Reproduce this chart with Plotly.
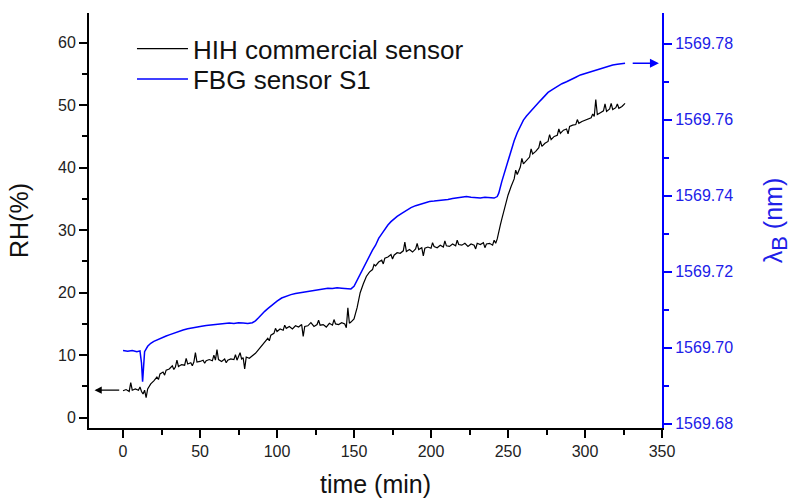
import plotly.graph_objects as go

# ---------------- data ----------------
t_hih = [0, 2, 4, 5, 6, 8, 10, 11, 12, 13, 14, 15, 16, 18, 20, 22, 23, 24, 26, 27, 28, 30,
         32, 33, 34, 35, 36, 38, 40, 41, 42, 44, 45, 46, 47, 48, 50, 52, 53, 54, 56, 58, 59,
         60, 61, 62, 64, 66, 67, 68, 70, 72, 73, 74, 76, 77, 78, 79, 80, 82, 84, 86, 88, 90,
         92, 94, 95, 96, 98, 99, 100, 102, 104, 105, 106, 108, 110, 112, 114, 116, 117, 118,
         120, 122, 124, 126, 127, 128, 130, 132, 134, 136, 137, 138, 140, 142, 144, 145, 146,
         147, 148, 150, 152, 154, 156, 158, 160, 162, 163, 164, 166, 168, 169, 170, 172, 174,
         175, 176, 178, 180, 182, 183, 184, 186, 188, 190, 191, 192, 194, 195, 196, 198, 200,
         201, 202, 204, 206, 208, 209, 210, 212, 214, 216, 217, 218, 220, 222, 224, 226, 228,
         229, 230, 232, 234, 235, 236, 238, 240, 241, 242, 243, 244, 245, 246, 247, 248, 249,
         250, 252, 254, 255, 256, 258, 259, 260, 262, 264, 265, 266, 268, 270, 271, 272, 274,
         276, 277, 278, 280, 282, 283, 284, 286, 288, 289, 290, 292, 294, 295, 296, 298, 300,
         302, 304, 305, 306, 307, 308, 310, 312, 313, 314, 316, 317, 318, 320, 321, 322, 324,
         326]
rh_hih = [4.3, 4.5, 4.2, 5.6, 4.4, 4.6, 4.4, 4.9, 4.2, 3.8, 4.4, 3.2, 4.6, 5.4, 5.9, 6.5, 6.1,
          7.0, 7.3, 6.8, 7.6, 7.8, 8.3, 7.7, 8.1, 9.2, 8.2, 8.5, 8.4, 9.5, 8.6, 8.8, 8.3, 8.9,
          10.4, 8.9, 9.0, 9.2, 8.7, 9.1, 9.3, 9.1, 10.0, 9.2, 10.9, 9.3, 9.0, 9.4, 8.8, 9.2,
          9.4, 9.3, 10.1, 9.2, 10.4, 9.4, 9.6, 7.8, 9.7, 9.5, 9.9, 10.3, 10.9, 11.5, 12.1, 12.7,
          12.3, 13.2, 13.5, 14.3, 13.8, 14.2, 14.0, 14.8, 14.3, 14.6, 14.2, 14.7, 14.5, 14.9,
          13.0, 14.6, 14.7, 15.2, 14.6, 14.9, 15.6, 14.8, 14.9, 14.5, 15.1, 14.8, 15.7, 15.0,
          14.9, 15.2, 15.0, 14.4, 17.6, 15.1, 15.3, 15.8, 17.6, 20.0, 21.4, 22.6, 23.3, 23.7,
          24.5, 24.3, 24.9, 25.2, 24.6, 25.5, 25.7, 26.1, 25.4, 26.0, 26.4, 26.3, 26.7, 28.1,
          26.6, 26.9, 26.5, 27.0, 27.9, 26.9, 27.2, 25.9, 27.1, 27.3, 27.1, 28.0, 27.4, 27.2,
          27.6, 27.3, 28.3, 27.5, 27.4, 27.8, 27.5, 28.4, 27.7, 27.6, 27.9, 27.4, 27.8, 27.6,
          27.0, 27.9, 27.7, 28.0, 27.2, 27.8, 27.9, 27.6, 28.4, 27.9, 28.6, 29.5, 30.8, 31.8,
          32.7, 33.8, 34.8, 35.6, 37.0, 38.2, 39.6, 38.9, 40.1, 41.5, 40.6, 41.2, 41.7, 43.0,
          42.2, 42.6, 43.2, 44.3, 43.4, 43.9, 44.2, 45.3, 44.5, 45.0, 45.2, 46.2, 45.5, 46.0,
          46.2, 45.4, 46.6, 46.8, 46.9, 47.7, 47.1, 47.4, 47.6, 47.9, 48.0, 48.6, 48.2, 50.9,
          48.5, 48.8, 49.1, 50.2, 49.0, 49.4, 50.3, 49.3, 49.6, 50.2, 49.5, 49.8, 50.3]

t_fbg = [0, 3, 6, 9, 11, 12, 12.7, 13.3, 14, 16, 18, 20, 22, 24, 26, 28, 30, 33, 36, 39, 42,
         45, 48, 51, 54, 57, 60, 63, 66, 69, 72, 75, 78, 81, 84, 86, 88, 90, 92, 94, 96, 98,
         100, 103, 106, 109, 112, 115, 118, 121, 124, 127, 130, 133, 136, 139, 142, 145, 148,
         150, 152, 154, 156, 158, 160, 162, 164, 166, 168, 170, 172, 174, 176, 178, 181, 184,
         187, 190, 193, 196, 199, 202, 205, 208, 211, 214, 217, 220, 223, 226, 229, 232, 235,
         238, 241, 243, 244, 246, 248, 250, 252, 254, 256, 258, 260, 262, 264.5, 267, 270,
         273, 276, 279, 282, 285, 288, 291, 294, 297, 300, 303, 306, 309, 312, 315, 318, 321,
         324, 326]
wl_fbg = [1569.6993, 1569.6991, 1569.6993, 1569.6990, 1569.6992, 1569.6960, 1569.6911,
          1569.6965, 1569.6990, 1569.7004, 1569.7012, 1569.7017, 1569.7021, 1569.7024,
          1569.7028, 1569.7031, 1569.7034, 1569.7039, 1569.7043, 1569.7047, 1569.7050,
          1569.7053, 1569.7055, 1569.7057, 1569.7059, 1569.7060, 1569.7062, 1569.7063,
          1569.7063, 1569.7065, 1569.7064, 1569.7066, 1569.7065, 1569.7064, 1569.7066,
          1569.7071, 1569.7079, 1569.7088, 1569.7096, 1569.7103, 1569.7110, 1569.7117,
          1569.7123, 1569.7131, 1569.7136, 1569.7140, 1569.7143, 1569.7145, 1569.7147,
          1569.7149, 1569.7151, 1569.7154, 1569.7155, 1569.7157, 1569.7156, 1569.7158,
          1569.7157, 1569.7156, 1569.7155, 1569.7162, 1569.7178, 1569.7196, 1569.7213,
          1569.7229, 1569.7244, 1569.7257, 1569.7270, 1569.7288, 1569.7300, 1569.7313,
          1569.7323, 1569.7332, 1569.7340, 1569.7346, 1569.7354, 1569.7362, 1569.7369,
          1569.7374, 1569.7378, 1569.7382, 1569.7385, 1569.7386, 1569.7387, 1569.7389,
          1569.7390, 1569.7393, 1569.7395, 1569.7397, 1569.7398, 1569.7396, 1569.7395,
          1569.7394, 1569.7396, 1569.7395, 1569.7394, 1569.7398, 1569.7407, 1569.7438,
          1569.7466, 1569.7494, 1569.7521, 1569.7545, 1569.7566, 1569.7584, 1569.7599,
          1569.7610, 1569.7622, 1569.7633, 1569.7646, 1569.7659, 1569.7672, 1569.7680,
          1569.7688, 1569.7695, 1569.7700, 1569.7707, 1569.7712, 1569.7718, 1569.7722,
          1569.7726, 1569.7730, 1569.7734, 1569.7738, 1569.7741, 1569.7744, 1569.7746,
          1569.7748, 1569.7749]

x_range = [-22.1, 350]
rh_range = [-1.65, 64.75]
wl_range = [1569.6789, 1569.7881]

FONT = "Arial, Liberation Sans, sans-serif"
BLUE = "#0000FF"

fig = go.Figure()
fig.add_trace(go.Scatter(x=t_hih, y=rh_hih, mode="lines", name="HIH commercial sensor",
                         line=dict(color="black", width=1.2), yaxis="y", legend="legend"))
fig.add_trace(go.Scatter(x=t_fbg, y=wl_fbg, mode="lines", name="FBG sensor S1",
                         line=dict(color=BLUE, width=1.5), yaxis="y2", legend="legend2"))

leg_common = dict(xanchor="left", yanchor="middle", bgcolor="rgba(0,0,0,0)", borderwidth=0,
                  font=dict(size=26, color="#111111", family=FONT), itemwidth=51)

fig.update_layout(
    template="none",
    width=792, height=498,
    margin=dict(l=89, r=130, t=13, b=70, pad=0),
    paper_bgcolor="white", plot_bgcolor="white",
    font=dict(family=FONT, color="#222222"),
    showlegend=True,
    legend=dict(x=0.075, y=0.914, **leg_common),
    legend2=dict(x=0.075, y=0.841, **leg_common),
    xaxis=dict(range=x_range, tick0=0, dtick=50, showgrid=False, zeroline=False,
               automargin=False,
               showline=True, linecolor="black", linewidth=2,
               ticks="outside", ticklen=8, tickwidth=2, tickcolor="black",
               minor=dict(dtick=25, ticks="outside", ticklen=5, tickwidth=1.5,
                          tickcolor="black", showgrid=False),
               tickfont=dict(size=16, color="#222222"),
               title=dict(text="time (min)", font=dict(size=25, color="#111111"),
                          standoff=20)),
    xaxis2=dict(range=x_range, overlaying="x", side="top", anchor="y",
                automargin=False,
                tick0=0, dtick=50, showgrid=False, zeroline=False,
                showline=True, linecolor="black", linewidth=2,
                ticks="inside", ticklen=7, tickwidth=2, tickcolor="black",
                minor=dict(dtick=25, ticks="inside", ticklen=4, tickwidth=1.5,
                           tickcolor="black", showgrid=False),
                showticklabels=False),
    yaxis=dict(range=rh_range, tick0=0, dtick=10, showgrid=False, zeroline=False,
               automargin=False,
               showline=True, linecolor="black", linewidth=2,
               ticks="outside", ticklen=8, tickwidth=2, tickcolor="black",
               minor=dict(dtick=5, ticks="outside", ticklen=5, tickwidth=1.5,
                          tickcolor="black", showgrid=False),
               tickfont=dict(size=16, color="#222222"),
               title=dict(text="RH(%)", font=dict(size=25, color="#111111"), standoff=22)),
    yaxis2=dict(range=wl_range, overlaying="y", side="right", anchor="x",
                automargin=False,
                tick0=1569.68, dtick=0.02, tickformat=".2f",
                showgrid=False, zeroline=False,
                showline=True, linecolor=BLUE, linewidth=2,
                ticks="outside", ticklen=8, tickwidth=2, tickcolor=BLUE,
                minor=dict(dtick=0.01, ticks="outside", ticklen=5, tickwidth=1.5,
                           tickcolor=BLUE, showgrid=False),
                tickfont=dict(size=16, color="#2020E8"),
                title=dict(text="λ<sub><span style='font-size:22px'>B</span></sub> (nm)",
                           font=dict(size=25, color="#2020E8"), standoff=35)),
)

# arrows pointing to the relevant axes
fig.add_annotation(x=-18.5, y=4.4, ax=-1.5, ay=4.4, xref="x", yref="y", axref="x", ayref="y",
                   text="", showarrow=True, arrowhead=2, arrowsize=1.2, arrowwidth=1.2,
                   arrowcolor="black")
fig.add_annotation(x=348, y=1569.7749, ax=330, ay=1569.7749, xref="x", yref="y2",
                   axref="x", ayref="y2", text="", showarrow=True, arrowhead=2,
                   arrowsize=1.2, arrowwidth=1.5, arrowcolor=BLUE)

fig.write_html("out.html", config={"displayModeBar": False},
               post_script="document.body.style.margin='0px';document.body.style.overflow='hidden';")
